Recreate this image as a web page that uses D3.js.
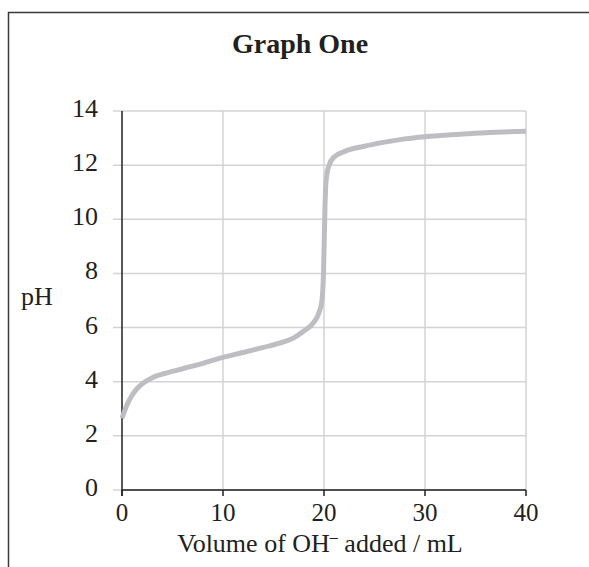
<!DOCTYPE html>
<html><head><meta charset="utf-8">
<script src="https://cdn.jsdelivr.net/npm/d3@7"></script>
<style>body{margin:0;background:#fff}svg{display:block}</style>
</head><body>
<svg id="c" width="589" height="567"></svg>
<script>
const volume = [0,0.5,1,1.5,2,3,4,5,6,8,10,12,14,16,17,18,19,19.5,19.8,19.95,20.1,20.2,20.5,21,22,24,26,28,30,33,36,40];
const pH     = [2.65,3.15,3.5,3.75,3.92,4.15,4.28,4.38,4.48,4.68,4.9,5.08,5.27,5.47,5.62,5.87,6.2,6.55,7.0,8.0,10.5,11.4,12.0,12.3,12.5,12.7,12.85,12.97,13.05,13.13,13.2,13.25];
const xTicks = [0,10,20,30,40];
const yTicks = [0,2,4,6,8,10,12,14];
const title = "Graph One";
const yLabel = "pH";

const svg = d3.select("#c");
const font = "'Liberation Serif','Times New Roman',serif";
const x = d3.scaleLinear().domain([0,40]).range([122,526]);
const y = d3.scaleLinear().domain([0,14]).range([490,111]);

// frame
svg.append("rect").attr("x",8.5).attr("y",12.5).attr("width",640).attr("height",640)
  .attr("fill","none").attr("stroke","#3a3a3a").attr("stroke-width",1.5);

// title
svg.append("text").attr("x",300).attr("y",53).attr("text-anchor","middle")
  .attr("font-family",font).attr("font-weight","bold").attr("font-size",28).attr("fill","#231f20").text(title);

// grid
const g = svg.append("g");
g.selectAll(".hg").data(yTicks).join("line")
  .attr("x1",113).attr("x2",x(40)).attr("y1",d=>y(d)).attr("y2",d=>y(d))
  .attr("stroke","#d3d3d3").attr("stroke-width",1.5);
g.selectAll(".vg").data(xTicks.slice(1)).join("line")
  .attr("x1",d=>x(d)).attr("x2",d=>x(d)).attr("y1",y(14)).attr("y2",y(0))
  .attr("stroke","#d3d3d3").attr("stroke-width",1.5);

// axes lines
svg.append("line").attr("x1",x(0)).attr("x2",x(0)).attr("y1",y(14)).attr("y2",y(0)+6)
  .attr("stroke","#231f20").attr("stroke-width",1.5);
svg.append("line").attr("x1",x(0)).attr("x2",x(40)).attr("y1",y(0)).attr("y2",y(0))
  .attr("stroke","#231f20").attr("stroke-width",1.5);
svg.selectAll(".xt").data(xTicks).join("line")
  .attr("x1",d=>x(d)).attr("x2",d=>x(d)).attr("y1",y(0)).attr("y2",y(0)+6)
  .attr("stroke","#231f20").attr("stroke-width",1.5);

// tick labels
svg.selectAll(".xl").data(xTicks).join("text")
  .attr("x",d=>x(d)).attr("y",521).attr("text-anchor","middle")
  .attr("font-family",font).attr("font-size",25).attr("fill","#231f20").text(d=>d);
svg.selectAll(".yl").data(yTicks).join("text")
  .attr("x",98).attr("y",d=>y(d)+6).attr("text-anchor","end")
  .attr("font-family",font).attr("font-size",26).attr("fill","#231f20").text(d=>d);

// axis labels
svg.append("text").attr("x",21).attr("y",305)
  .attr("font-family",font).attr("font-size",26).attr("fill","#231f20").text(yLabel);
const xl = svg.append("text").attr("x",320).attr("y",552).attr("text-anchor","middle")
  .attr("font-family",font).attr("font-size",26).attr("fill","#231f20");
xl.append("tspan").text("Volume of OH");
xl.append("tspan").attr("dy",-10).attr("font-size",16).text("–");
xl.append("tspan").attr("dy",10).text(" added / mL");

// curve
const pts = volume.map((v,i)=>[v,pH[i]]);
svg.append("path").datum(pts)
  .attr("d",d3.line().x(d=>x(d[0])).y(d=>y(d[1])).curve(d3.curveMonotoneX))
  .attr("fill","none").attr("stroke","#bebec2").attr("stroke-width",5);
</script>
</body></html>
